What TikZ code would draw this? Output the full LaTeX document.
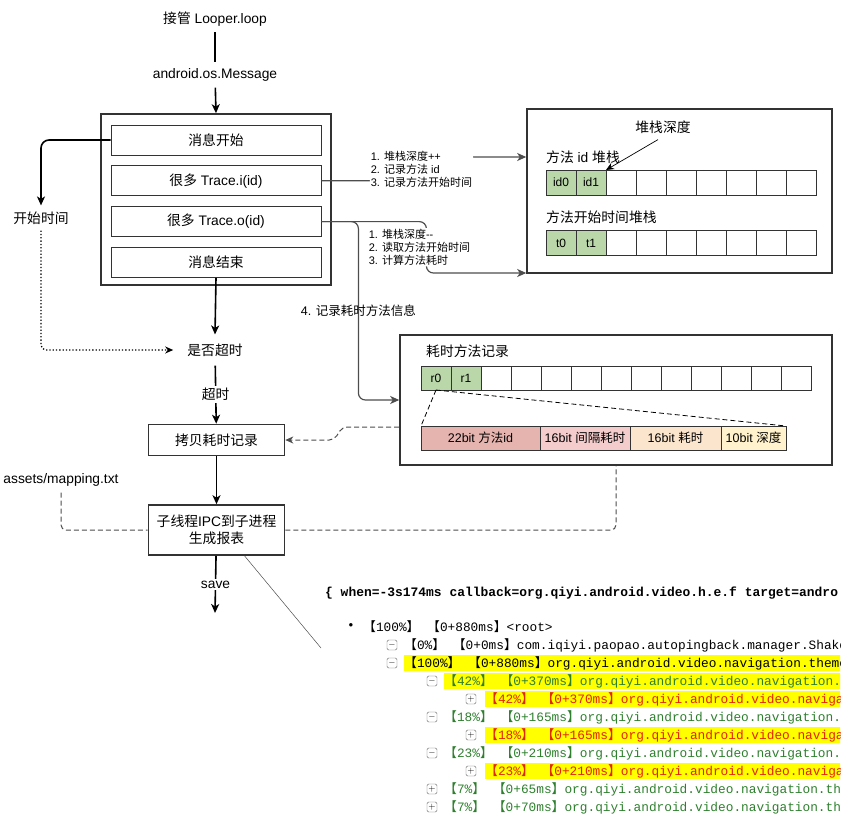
\documentclass[tikz,border=0pt]{standalone}
\usepackage{fontspec}
\setmainfont{Liberation Sans}
\setmonofont{Liberation Mono}
\newfontfamily\cjk{Noto Sans CJK SC}
\usetikzlibrary{positioning,calc,arrows.meta}
\newcommand{\zh}[1]{{\cjk #1}}
\newcommand{\lb}{{\cjk 【}}
\newcommand{\rb}{{\cjk 】}}
\definecolor{Frame}{HTML}{333333}
\definecolor{Wire}{HTML}{4D4D4D}
\definecolor{CellGreen}{HTML}{B9D7A8}
\definecolor{BitId}{HTML}{E6B4AF}
\definecolor{BitGap}{HTML}{F4CCCC}
\definecolor{BitCost}{HTML}{FCE5CD}
\definecolor{BitDepth}{HTML}{FFF2CC}
\definecolor{TreeGreen}{HTML}{2E7F2E}
\definecolor{TreeRed}{HTML}{E32400}
\definecolor{Marker}{HTML}{FFFF00}

\tikzset{
	txt/.style={font=\fontsize{13.8}{17}\selectfont, inner sep=6pt},
	outerbox/.style={draw=Frame, line width=1.6pt},
	stepbox/.style={draw=Frame, line width=0.8pt, minimum width=210pt, minimum height=30pt, font=\fontsize{13.8}{17}\selectfont},
	procbox/.style={draw=Frame, line width=1.6pt, minimum width=136pt, font=\fontsize{13.8}{17}\selectfont, align=center},
	cell/.style={draw=Frame, line width=0.6pt, outer sep=0pt, minimum width=30pt, minimum height=25pt, inner sep=0pt, font=\fontsize{12}{14}\selectfont},
	bitbox/.style={draw=Frame, line width=0.6pt, outer sep=0pt, minimum height=24pt, inner sep=0pt, font=\fontsize{12.5}{14}\selectfont},
	title/.style={anchor=west, inner sep=0pt, font=\fontsize{13.8}{17}\selectfont},
	note/.style={font=\fontsize{11}{13}\selectfont, align=left, fill=white, inner sep=1pt},
	flow/.style={line width=1.6pt, -{Stealth[length=9pt,width=8pt,inset=2.5pt]}},
	wire/.style={draw=Wire, line width=1.2pt, rounded corners=7pt},
	guide/.style={draw=Wire, line width=1pt, dash pattern=on 5pt off 3pt, rounded corners=5pt},
	row/.style={anchor=west, inner sep=0pt, font=\ttfamily\fontsize{12.8}{15}\selectfont},
	toggle/.style={draw=gray!80!black, fill=white, rounded corners=1.5pt, minimum size=10pt, inner sep=0pt, font=\fontsize{9}{9}\selectfont},
}

\begin{document}
\begin{tikzpicture}[x=1pt,y=-1pt]
	\useasboundingbox (0,0) rectangle (853,835);

	% message loop
	\node[txt] (looper) at (215,19) {\zh{接管} Looper.loop};
	\node[txt] (msg) at (215,75) {android.os.Message};
	\node[outerbox, minimum width=230pt, minimum height=171pt] (loopbox) at (216,199.5) {};
	\node[stepbox] (start) at (216,140) {\zh{消息开始}};
	\node[stepbox, below=10pt of start] (tracei) {\zh{很多} Trace.i(id)};
	\node[stepbox, below=10pt of tracei] (traceo) {\zh{很多} Trace.o(id)};
	\node[stepbox, below=10pt of traceo] (stop) {\zh{消息结束}};

	\node[txt] (begintime) at (41,218) {\zh{开始时间}};
	\node[txt, inner xsep=14pt, inner ysep=9pt] (timeout) at (215,350) {\zh{是否超时}};
	\node[procbox, minimum height=31pt] (copybox) at (216.5,440) {\zh{拷贝耗时记录}};
	\node[procbox, minimum height=50pt] (report) at (216.5,530) {\zh{子线程}IPC\zh{到子进程}\\\zh{生成报表}};
	\node[txt] (assets) at (61,480) {assets/mapping.txt};
	\coordinate (saveend) at (215,613);

	% method stacks
	\node[outerbox, minimum width=305pt, minimum height=164pt] (stackbox) at (679.5,191) {};
	\node[txt] (depth) at (663,127) {\zh{堆栈深度}};
	\node[title] (idtitle) at (546,157) {\zh{方法} id \zh{堆栈}};
	\node[cell, fill=CellGreen] (idc0) at (561,182.5) {id0};
	\node[cell, fill=CellGreen, right=0pt of idc0] (idc1) {id1};
	\foreach \i [count=\j from 1] in {2,...,8}
		\node[cell, right=0pt of idc\j] (idc\i) {};
	\node[title] (ttitle) at (546,217) {\zh{方法开始时间堆栈}};
	\node[cell, fill=CellGreen] (tc0) at (561,243) {t0};
	\node[cell, fill=CellGreen, right=0pt of tc0] (tc1) {t1};
	\foreach \i [count=\j from 1] in {2,...,8}
		\node[cell, right=0pt of tc\j] (tc\i) {};

	% slow method records
	\node[outerbox, minimum width=432pt, minimum height=130pt] (recordbox) at (616,400) {};
	\node[title] (rectitle) at (426,351) {\zh{耗时方法记录}};
	\node[cell, minimum height=24pt, fill=CellGreen] (rc0) at (436,378) {r0};
	\node[cell, minimum height=24pt, fill=CellGreen, right=0pt of rc0] (rc1) {r1};
	\foreach \i [count=\j from 1] in {2,...,12}
		\node[cell, minimum height=24pt, right=0pt of rc\j] (rc\i) {};
	\node[bitbox, fill=BitId, minimum width=119pt, anchor=west] (bitid) at (421,438) {22bit \zh{方法}id};
	\node[bitbox, fill=BitGap, minimum width=90pt, right=0pt of bitid] (bitgap) {16bit \zh{间隔耗时}};
	\node[bitbox, fill=BitCost, minimum width=91pt, right=0pt of bitgap] (bitcost) {16bit \zh{耗时}};
	\node[bitbox, fill=BitDepth, minimum width=65pt, right=0pt of bitcost] (bitdepth) {10bit \zh{深度}};

	% connectors
	\draw[line width=1.6pt] (looper) -- (msg);
	\draw[flow] (msg) -- (loopbox.north);
	\draw[flow, rounded corners=8pt] (start.west) -| (begintime.north);
	\draw[line width=1.3pt, dotted, -{Stealth[length=8pt,width=7pt,inset=2.5pt]}, rounded corners=5pt] (begintime.south) |- (timeout.west);
	\draw[flow] (stop.south) -- (timeout.north);
	\draw[flow] (timeout) -- node[txt, fill=white, inner sep=2pt] {\zh{超时}} (copybox);
	\draw[flow] (copybox) -- (report);
	\draw[flow] (report) -- node[txt, fill=white, inner sep=2pt] {save} (saveend);
	\draw[guide] (assets.south) |- (report.west);
	\draw[guide] (report.east) -| (recordbox.south);
	\draw[guide, -{Stealth[length=8pt,width=7pt,inset=2.5pt]}] ($(recordbox.west)+(0,27)$) -- ++(-57,0) -- ++(-8,13) -- (copybox.east);

	\draw[wire, -{Stealth[length=9pt,width=8pt,inset=2.5pt]}] (tracei.east) -- ++(104,0) |- node[note, pos=0.25, xshift=-4pt] {1. \zh{堆栈深度}++\\2. \zh{记录方法} id\\3. \zh{记录方法开始时间}} ($(stackbox.west)+(0,-34)$);
	\draw[wire, -{Stealth[length=9pt,width=8pt,inset=2.5pt]}] (traceo.east) -- ++(105,0) |- node[note, pos=0.25, xshift=-7pt] {1. \zh{堆栈深度}-{}-\\2. \zh{读取方法开始时间}\\3. \zh{计算方法耗时}} ($(stackbox.west)+(0,82)$);
	\draw[wire, -{Stealth[length=9pt,width=8pt,inset=2.5pt]}] (traceo.east) -- ++(37,0) |- node[pos=0.25, font=\fontsize{12.5}{15}\selectfont] {4. \zh{记录耗时方法信息}} (recordbox.west);

	\draw[line width=0.7pt, -{Stealth[length=8pt,width=7pt]}] ([xshift=-5pt]depth.south) -- (idc2.north west);
	\draw[line width=0.8pt, dash pattern=on 5pt off 3pt] (rc0.south) -- (bitid.north west);
	\draw[line width=0.8pt, dash pattern=on 5pt off 3pt] (rc0.south) -- (bitdepth.north east);

	\coordinate (shotcorner) at (321,648);
	\draw[line width=0.5pt, Wire] ($(report.south)+(28,0)$) -- (shotcorner);

	% report tree
	\begin{scope}
		\clip (318,575) rectangle (840,830);
		\fill[Marker] (404,655) rectangle (845,671);
		\fill[Marker] (444,673) rectangle (845,689);
		\fill[Marker] (485,691) rectangle (845,707);
		\fill[Marker] (485,727) rectangle (845,743);
		\fill[Marker] (485,763) rectangle (845,779);
		\node[row, font=\ttfamily\bfseries\fontsize{12.95}{15}\selectfont] (header) at (325,593) {\{ when=-3s174ms callback=org.qiyi.android.video.h.e.f target=andro};
		\node[row] (dot1) at (347,627) {\textbullet};
		\node[row] (row1) at (363,627) {\lb 100\%\rb\ \lb 0+880ms\rb<root>};
		\node[toggle] (tog2) at (392,645) {$-$};
		\node[row] (row2) at (404,645) {\lb 0\%\rb\ \lb 0+0ms\rb com.iqiyi.paopao.autopingback.manager.Shake};
		\node[toggle] (tog3) at (392,663) {$-$};
		\node[row] (row3) at (404,663) {\lb 100\%\rb\ \lb 0+880ms\rb org.qiyi.android.video.navigation.theme};
		\node[toggle] (tog4) at (432,681) {$-$};
		\node[row, TreeGreen] (row4) at (444,681) {\lb 42\%\rb\ \lb 0+370ms\rb org.qiyi.android.video.navigation.t};
		\node[toggle] (tog5) at (471,699) {$+$};
		\node[row, TreeRed] (row5) at (485,699) {\lb 42\%\rb\ \lb 0+370ms\rb org.qiyi.android.video.navigat};
		\node[toggle] (tog6) at (432,717) {$-$};
		\node[row, TreeGreen] (row6) at (444,717) {\lb 18\%\rb\ \lb 0+165ms\rb org.qiyi.android.video.navigation.t};
		\node[toggle] (tog7) at (471,735) {$+$};
		\node[row, TreeRed] (row7) at (485,735) {\lb 18\%\rb\ \lb 0+165ms\rb org.qiyi.android.video.navigat};
		\node[toggle] (tog8) at (432,753) {$-$};
		\node[row, TreeGreen] (row8) at (444,753) {\lb 23\%\rb\ \lb 0+210ms\rb org.qiyi.android.video.navigation.t};
		\node[toggle] (tog9) at (471,771) {$+$};
		\node[row, TreeRed] (row9) at (485,771) {\lb 23\%\rb\ \lb 0+210ms\rb org.qiyi.android.video.navigat};
		\node[toggle] (tog10) at (432,789) {$+$};
		\node[row, TreeGreen] (row10) at (444,789) {\lb 7\%\rb\ \lb 0+65ms\rb org.qiyi.android.video.navigation.the};
		\node[toggle] (tog11) at (432,807) {$+$};
		\node[row, TreeGreen] (row11) at (444,807) {\lb 7\%\rb\ \lb 0+70ms\rb org.qiyi.android.video.navigation.the};
	\end{scope}
\end{tikzpicture}
\end{document}
